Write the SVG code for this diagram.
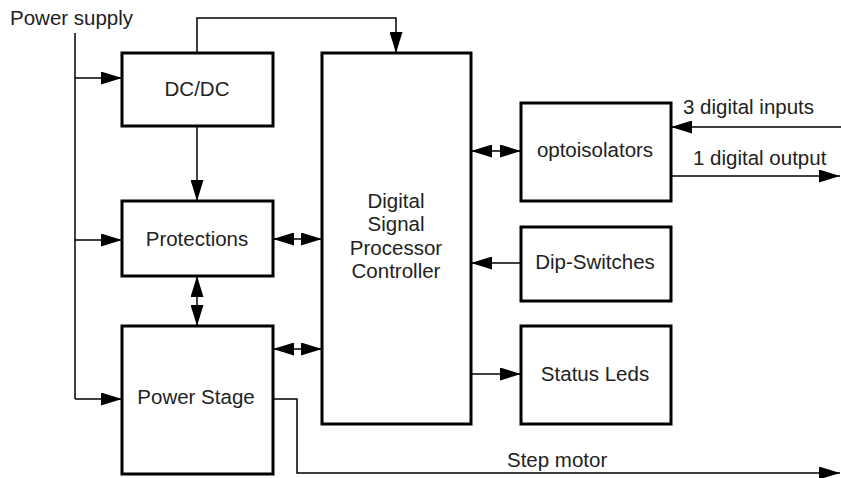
<svg xmlns="http://www.w3.org/2000/svg" width="841" height="478" viewBox="0 0 841 478">
<style>
.box{fill:#fff;stroke:#000;stroke-width:3}
.ln{fill:none;stroke:#000;stroke-width:1.5}
.t{font-family:"Liberation Sans",Arial,sans-serif;font-size:20.5px;fill:#222}
.c{text-anchor:middle}
</style>
<defs>
<marker id="ah" viewBox="0 0 21 13" refX="21" refY="6.5" markerWidth="21" markerHeight="13" markerUnits="userSpaceOnUse" orient="auto-start-reverse">
<path d="M0,0 L21,6.5 L0,13 z" fill="#000"/>
</marker>
</defs>
<rect width="841" height="478" fill="#fff"/>
<g id="connectors">
<polyline class="ln" points="75,33 75,399"/>
<line class="ln" x1="75" y1="78" x2="122" y2="78" marker-end="url(#ah)"/>
<line class="ln" x1="75" y1="240" x2="122" y2="240" marker-end="url(#ah)"/>
<line class="ln" x1="75" y1="399" x2="122" y2="399" marker-end="url(#ah)"/>
<polyline class="ln" points="197,53 197,18 396,18 396,53" marker-end="url(#ah)"/>
<line class="ln" x1="197" y1="126" x2="197" y2="201" marker-end="url(#ah)"/>
<line class="ln" x1="197" y1="276" x2="197" y2="326" marker-start="url(#ah)" marker-end="url(#ah)"/>
<line class="ln" x1="273" y1="239" x2="322" y2="239" marker-start="url(#ah)" marker-end="url(#ah)"/>
<line class="ln" x1="273" y1="349" x2="322" y2="349" marker-start="url(#ah)" marker-end="url(#ah)"/>
<line class="ln" x1="471" y1="151" x2="521" y2="151" marker-start="url(#ah)" marker-end="url(#ah)"/>
<line class="ln" x1="521" y1="263" x2="471" y2="263" marker-end="url(#ah)"/>
<line class="ln" x1="471" y1="374" x2="521" y2="374" marker-end="url(#ah)"/>
<line class="ln" x1="841" y1="127" x2="671" y2="127" marker-end="url(#ah)"/>
<line class="ln" x1="671" y1="176" x2="840" y2="176" marker-end="url(#ah)"/>
<polyline class="ln" points="273,399 297,399 297,473 840,473" marker-end="url(#ah)"/>
</g>
<g id="labels">
<text class="t" x="10" y="25">Power supply</text>
<text class="t" x="683" y="114">3 digital inputs</text>
<text class="t" x="693" y="165">1 digital output</text>
<text class="t" x="507" y="467">Step motor</text>
</g>
<g id="dcdc">
<rect class="box" x="122" y="53" width="151" height="73"/>
<text class="t c" x="197" y="96">DC/DC</text>
</g>
<g id="protections">
<rect class="box" x="122" y="201" width="151" height="75"/>
<text class="t c" x="197" y="246">Protections</text>
</g>
<g id="powerstage">
<rect class="box" x="122" y="326" width="151" height="148"/>
<text class="t c" x="196" y="404">Power Stage</text>
</g>
<g id="dsp">
<rect class="box" x="322" y="53" width="149" height="371"/>
<text class="t c" x="396" y="208">Digital</text>
<text class="t c" x="396" y="231">Signal</text>
<text class="t c" x="396" y="255">Processor</text>
<text class="t c" x="396" y="278">Controller</text>
</g>
<g id="optoisolators">
<rect class="box" x="521" y="103" width="150" height="98"/>
<text class="t c" x="595" y="157">optoisolators</text>
</g>
<g id="dipswitches">
<rect class="box" x="521" y="227" width="150" height="74"/>
<text class="t c" x="595" y="269">Dip-Switches</text>
</g>
<g id="statusleds">
<rect class="box" x="521" y="326" width="150" height="98"/>
<text class="t c" x="595" y="381">Status Leds</text>
</g>
</svg>
